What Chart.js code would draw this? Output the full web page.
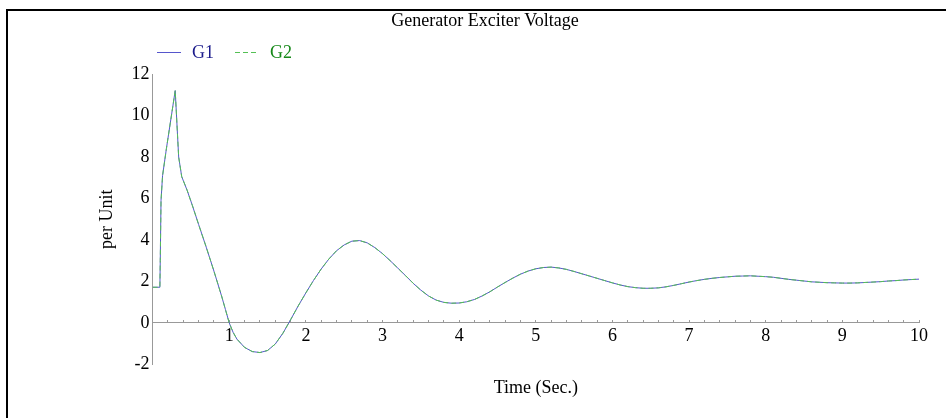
<!DOCTYPE html>
<html>
<head>
<meta charset="utf-8">
<script src="https://cdn.jsdelivr.net/npm/chart.js@4/dist/chart.umd.min.js"></script>
<style>
  html, body { margin: 0; padding: 0; background: #fff; }
  #wrap { width: 946px; height: 418px; }
</style>
</head>
<body>
<div id="wrap"><canvas id="myChart" width="946" height="418"></canvas></div>
<script>
// values
const time = [0, 0.095, 0.1, 0.11, 0.13, 0.18, 0.295, 0.34, 0.38, 0.45, 0.52, 0.6, 0.7, 0.8, 0.9, 0.95,
  1.0, 1.05, 1.1, 1.2, 1.3, 1.4, 1.5, 1.6, 1.7, 1.8, 1.9, 2.0, 2.1, 2.2, 2.3, 2.4, 2.5, 2.6, 2.7, 2.8, 2.9,
  3.0, 3.1, 3.2, 3.3, 3.4, 3.5, 3.6, 3.7, 3.8, 3.9, 4.0, 4.1, 4.2, 4.3, 4.4, 4.5, 4.6, 4.7, 4.8, 4.9,
  5.0, 5.1, 5.2, 5.3, 5.4, 5.5, 5.6, 5.7, 5.8, 5.9, 6.0, 6.1, 6.2, 6.3, 6.4, 6.5, 6.6, 6.7, 6.8, 6.9,
  7.0, 7.1, 7.2, 7.3, 7.4, 7.5, 7.6, 7.7, 7.8, 7.9, 8.0, 8.1, 8.2, 8.3, 8.4, 8.5, 8.6, 8.7, 8.8, 8.9,
  9.0, 9.1, 9.2, 9.3, 9.4, 9.5, 9.6, 9.7, 9.8, 9.9, 10.0];
const g1 = [1.72, 1.72, 3.0, 5.9, 7.1, 8.4, 11.2, 8.0, 7.05, 6.4, 5.65, 4.75, 3.65, 2.5, 1.3, 0.65,
  0.0, -0.45, -0.78, -1.18, -1.38, -1.43, -1.33, -1.02, -0.5, 0.15, 0.82, 1.45, 2.05, 2.6, 3.08, 3.48, 3.76, 3.94, 3.97, 3.86, 3.63,
  3.34, 3.0, 2.64, 2.28, 1.91, 1.58, 1.3, 1.1, 0.99, 0.95, 0.96, 1.02, 1.13, 1.3, 1.5, 1.73, 1.95, 2.16, 2.35, 2.5,
  2.61, 2.67, 2.69, 2.65, 2.58, 2.48, 2.37, 2.26, 2.15, 2.04, 1.93, 1.83, 1.75, 1.7, 1.67, 1.67, 1.69, 1.74, 1.81, 1.89,
  1.97, 2.04, 2.1, 2.15, 2.19, 2.22, 2.25, 2.26, 2.27, 2.25, 2.23, 2.2, 2.15, 2.1, 2.06, 2.02, 1.98, 1.96, 1.94, 1.93,
  1.92, 1.92, 1.93, 1.95, 1.97, 1.99, 2.02, 2.04, 2.07, 2.09, 2.11];
const g2 = [1.72, 1.72, 3.0, 5.9, 7.1, 8.4, 11.2, 8.0, 7.05, 6.4, 5.65, 4.75, 3.65, 2.5, 1.3, 0.65,
  0.0, -0.45, -0.78, -1.18, -1.38, -1.43, -1.33, -1.02, -0.5, 0.15, 0.82, 1.45, 2.05, 2.6, 3.08, 3.48, 3.76, 3.94, 3.97, 3.86, 3.63,
  3.34, 3.0, 2.64, 2.28, 1.91, 1.58, 1.3, 1.1, 0.99, 0.95, 0.96, 1.02, 1.13, 1.3, 1.5, 1.73, 1.95, 2.16, 2.35, 2.5,
  2.61, 2.67, 2.69, 2.65, 2.58, 2.48, 2.37, 2.26, 2.15, 2.04, 1.93, 1.83, 1.75, 1.7, 1.67, 1.67, 1.69, 1.74, 1.81, 1.89,
  1.97, 2.04, 2.1, 2.15, 2.19, 2.22, 2.25, 2.26, 2.27, 2.25, 2.23, 2.2, 2.15, 2.1, 2.06, 2.02, 1.98, 1.96, 1.94, 1.93,
  1.92, 1.92, 1.93, 1.95, 1.97, 1.99, 2.02, 2.04, 2.07, 2.09, 2.11];
const seriesNames = ['G1', 'G2'];
const xTickLabels = [1, 2, 3, 4, 5, 6, 7, 8, 9, 10];
const yTickLabels = [-2, 0, 2, 4, 6, 8, 10, 12];

const serif = 'Liberation Serif, Times New Roman, serif';
const legendTextColors = ['#1c1c8c', '#17891a'];

const toPoints = values => time.map((t, i) => ({ x: t, y: values[i] }));

// frame, title and legend drawn on top of the chart
const decorations = {
  id: 'decorations',
  afterDraw(chart) {
    const { ctx } = chart;
    ctx.save();
    ctx.strokeStyle = '#000';
    ctx.lineWidth = 2;
    ctx.beginPath();
    ctx.moveTo(946, 10);
    ctx.lineTo(7, 10);
    ctx.lineTo(7, 418);
    ctx.stroke();

    ctx.fillStyle = '#000';
    ctx.font = `18px ${serif}`;
    ctx.textAlign = 'center';
    ctx.textBaseline = 'middle';
    ctx.fillText('Generator Exciter Voltage', 485, 21);

    ctx.textAlign = 'left';
    let x = 157;
    chart.data.datasets.forEach((ds, i) => {
      ctx.strokeStyle = ds.borderColor;
      ctx.lineWidth = 1;
      ctx.setLineDash(ds.borderDash || []);
      ctx.beginPath();
      ctx.moveTo(x, 52.5);
      ctx.lineTo(x + 24, 52.5);
      ctx.stroke();
      ctx.setLineDash([]);
      ctx.fillStyle = legendTextColors[i];
      ctx.fillText(ds.label, x + 35, 53);
      x += 78;
    });
    ctx.restore();
  }
};

const ctx = document.getElementById('myChart').getContext('2d');
new Chart(ctx, {
  type: 'line',
  data: {
    datasets: [{
      label: seriesNames[0],
      data: toPoints(g1),
      borderColor: '#5656cc',
      borderWidth: 1,
      pointRadius: 0,
      tension: 0,
      order: 2,
    }, {
      label: seriesNames[1],
      data: toPoints(g2),
      borderColor: '#55c055',
      borderWidth: 1,
      borderDash: [5, 3],
      pointRadius: 0,
      tension: 0,
      order: 1,
    }],
  },
  options: {
    responsive: false,
    animation: false,
    devicePixelRatio: 1,
    layout: { padding: { left: 96, right: 27, top: 74, bottom: 0 } },
    plugins: {
      legend: { display: false },
      title: { display: false },
      tooltip: { enabled: false },
    },
    scales: {
      x: {
        type: 'linear',
        position: { y: 0 },
        min: 0,
        max: 10,
        grid: { drawOnChartArea: false, drawTicks: true, tickLength: -3, color: '#999' },
        border: { display: true, color: '#999', width: 1 },
        ticks: {
          stepSize: 0.2,
          autoSkip: false,
          maxRotation: 0,
          padding: 6,
          color: '#000',
          font: { family: serif, size: 18 },
          callback: v => {
            const n = Math.round(v);
            return Math.abs(v - n) < 1e-6 && xTickLabels.includes(n) ? String(n) : '';
          },
        },
      },
      x2: {
        type: 'linear',
        axis: 'x',
        position: 'bottom',
        min: 0,
        max: 10,
        grid: { display: false, drawTicks: false },
        border: { display: false },
        ticks: { display: false },
        title: {
          display: true,
          text: 'Time (Sec.)',
          color: '#000',
          font: { family: serif, size: 18 },
          padding: { top: 13, bottom: 19 },
        },
      },
      y: {
        type: 'linear',
        min: -2,
        max: 12,
        grid: { drawOnChartArea: false, drawTicks: false },
        border: { display: true, color: '#999', width: 1 },
        afterBuildTicks: axis => { axis.ticks = yTickLabels.map(v => ({ value: v })); },
        ticks: {
          padding: 3,
          color: '#000',
          font: { family: serif, size: 18 },
        },
        title: {
          display: true,
          text: 'per Unit',
          color: '#000',
          font: { family: serif, size: 18 },
          padding: { top: 0, bottom: 11 },
        },
      },
    },
  },
  plugins: [decorations],
});
</script>
</body>
</html>
